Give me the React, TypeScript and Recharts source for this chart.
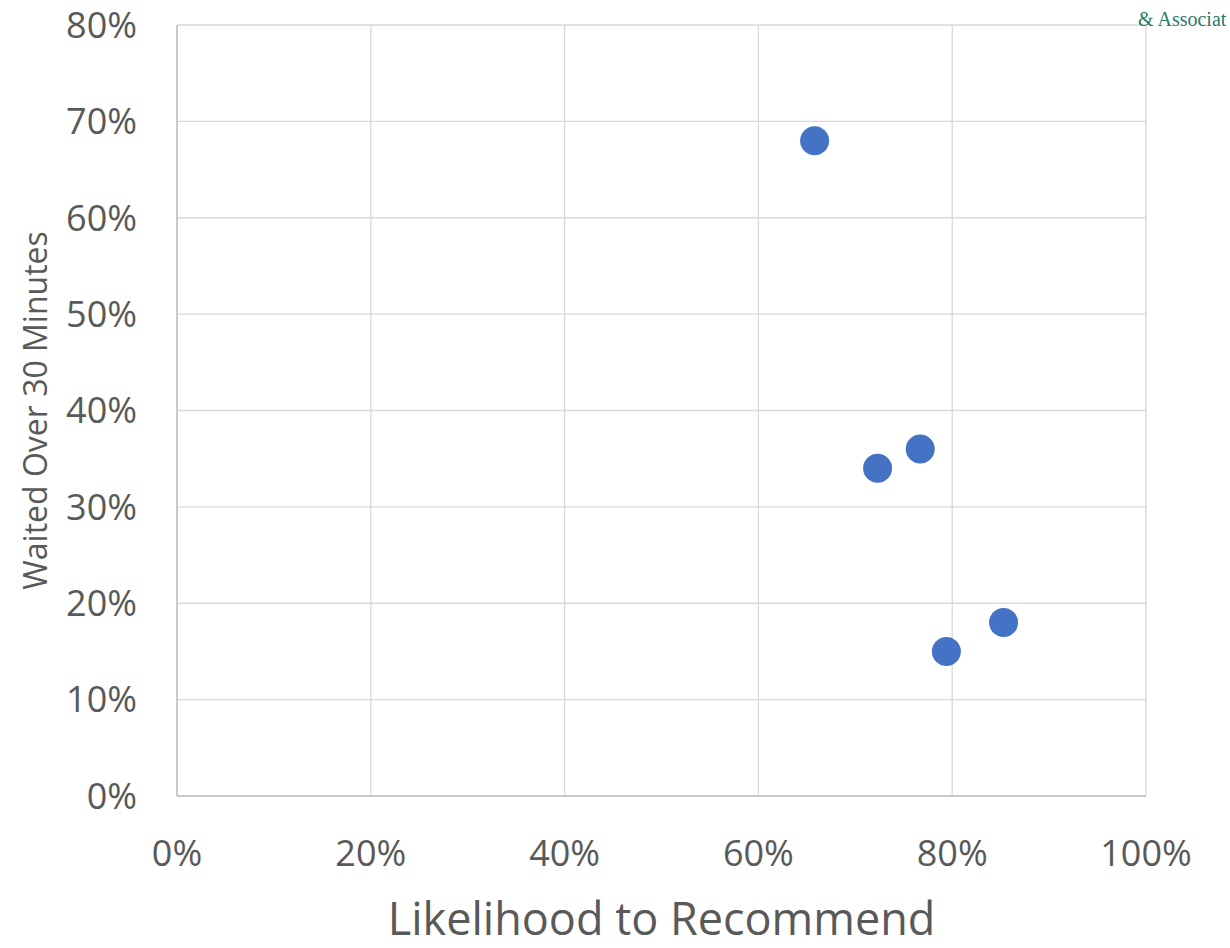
import React from 'react';
import { ScatterChart, Scatter, XAxis, YAxis, CartesianGrid, Label } from 'recharts';

// Each point: likelihood to recommend (x) vs share waiting over 30 minutes (y)
const recommendPct = [65.8, 72.3, 76.7, 79.4, 85.3];
const waitedOver30Pct = [68, 34, 36, 15, 18];
const xTicks = [0, 20, 40, 60, 80, 100];
const yTicks = [0, 10, 20, 30, 40, 50, 60, 70, 80];

const points = recommendPct.map((x, i) => ({ x, y: waitedOver30Pct[i] }));

const FONT = '"Open Sans", "Liberation Sans", sans-serif';
const pct = (v: number) => `${v}%`;

export default function App() {
  return (
    <div style={{ position: 'absolute', left: 0, top: 0, width: 1230, height: 948, overflow: 'hidden', background: '#fff' }}>
      <ScatterChart
        width={1230}
        height={948}
        margin={{ top: 25, right: 84, bottom: 0, left: 0 }}
      >
        <CartesianGrid stroke="#d9d9d9" strokeWidth={1.3} />
        <XAxis
          type="number"
          dataKey="x"
          domain={[0, 100]}
          ticks={xTicks}
          tickFormatter={pct}
          tickLine={false}
          tickSize={0}
          tickMargin={44}
          axisLine={{ stroke: '#bfbfbf', strokeWidth: 1.5 }}
          height={152}
          tick={{ fill: '#595959', fontSize: 36, fontFamily: FONT }}
          interval={0}
        >
          <Label
            value="Likelihood to Recommend"
            position="insideBottom"
            offset={13}
            style={{ fill: '#595959', fontSize: 45, fontFamily: FONT }}
          />
        </XAxis>
        <YAxis
          type="number"
          dataKey="y"
          domain={[0, 80]}
          ticks={yTicks}
          tickFormatter={pct}
          tickLine={false}
          tickSize={0}
          tickMargin={40}
          axisLine={{ stroke: '#bfbfbf', strokeWidth: 1.5 }}
          width={177}
          tick={{ fill: '#595959', fontSize: 36, fontFamily: FONT }}
          interval={0}
        >
          <Label
            value="Waited Over 30 Minutes"
            angle={-90}
            position="insideLeft"
            offset={36}
            style={{ fill: '#595959', fontSize: 32, fontFamily: FONT, textAnchor: 'middle' }}
          />
        </YAxis>
        <Scatter data={points} fill="#4472C4" isAnimationActive={false} shape={(p: any) => <circle cx={p.cx} cy={p.cy} r={14.5} fill="#4472C4" />} />
      </ScatterChart>
      <div
        style={{
          position: 'absolute',
          left: 1138,
          top: 8,
          whiteSpace: 'nowrap',
          fontFamily: '"Liberation Serif", serif',
          fontSize: 20,
          color: '#2a7a68',
          lineHeight: '22px',
        }}
      >
        &amp; Associat
      </div>
    </div>
  );
}
